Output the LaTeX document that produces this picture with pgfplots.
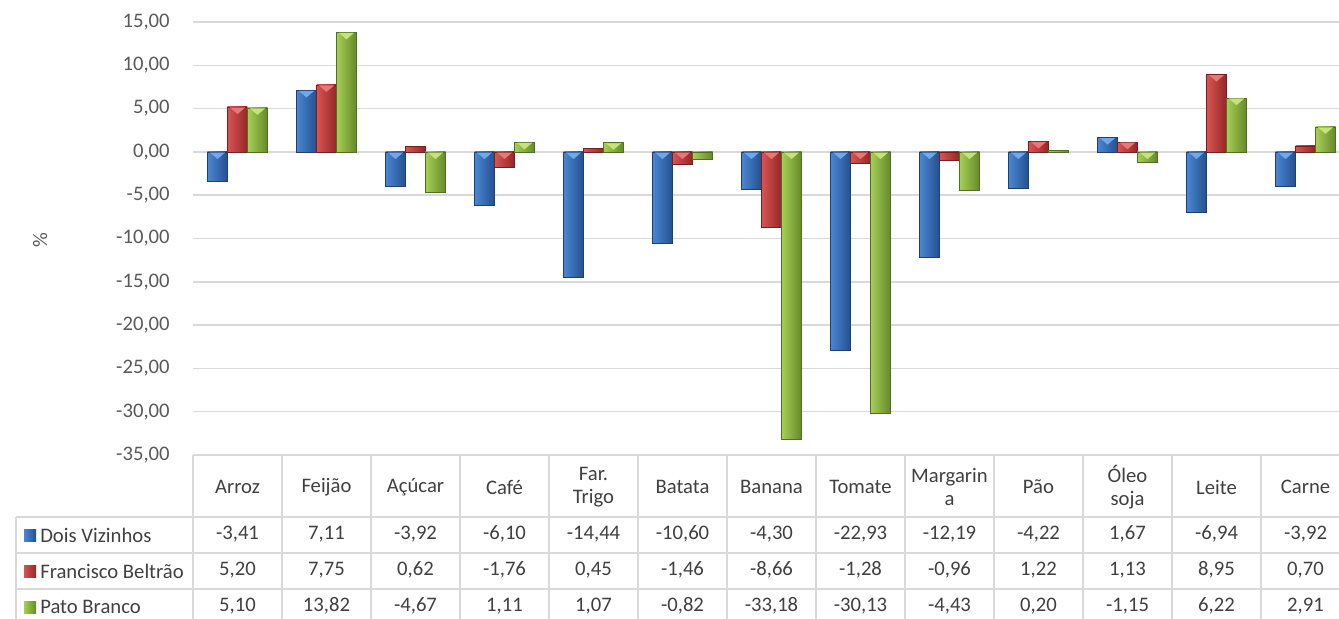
\documentclass[border=0pt]{standalone}
\usepackage{fontspec}
\setmainfont{Carlito}
\usepackage{pgfplots}
\usepackage{pgfplotstable}
\pgfplotsset{compat=1.18}
\definecolor{gridc}{HTML}{D9D9D9}
\definecolor{txt}{HTML}{595959}
\definecolor{tabtxt}{HTML}{404040}
\definecolor{bL}{HTML}{4A86D4}\definecolor{bM}{HTML}{3671C0}\definecolor{bD}{HTML}{24508E}
\definecolor{rL}{HTML}{D85454}\definecolor{rM}{HTML}{C83A3A}\definecolor{rD}{HTML}{952626}
\definecolor{gL}{HTML}{A6CF55}\definecolor{gM}{HTML}{8EBC40}\definecolor{gD}{HTML}{65892A}
\definecolor{bT}{HTML}{6FA8EC}\definecolor{rT}{HTML}{E67878}\definecolor{gT}{HTML}{C6E37A}
\newcommand{\fs}{\fontsize{15.5}{17}\selectfont}
\pgfplotstableread{
idx dv fb pb
0 -3.41 5.20 5.10
1 7.11 7.75 13.82
2 -3.92 0.62 -4.67
3 -6.10 -1.76 1.11
4 -14.44 0.45 1.07
5 -10.60 -1.46 -0.82
6 -4.30 -8.66 -33.18
7 -22.93 -1.28 -30.13
8 -12.19 -0.96 -4.43
9 -4.22 1.22 0.20
10 1.67 1.13 -1.15
11 -6.94 8.95 6.22
12 -3.92 0.70 2.91
}\data
\pgfkeys{/pgf/number format/.cd, fixed, fixed zerofill, precision=2, use comma, 1000 sep={}, assume math mode=true}
\begin{document}
\begin{tikzpicture}
\path[use as bounding box] (0,0) rectangle (1004.25pt,463.5pt);
\clip (0,0) rectangle (1004.25pt,463.5pt);
\begin{axis}[
  at={(144.75pt,122.25pt)}, anchor=south west,
  scale only axis, width=867.75pt, height=324.75pt,
  xmin=-0.5, xmax=12.5, ymin=-35, ymax=15,
  axis line style={draw=none},
  major tick length=0pt,
  ytick={-35,-30,...,15},
  xtick={0,...,12},
  xticklabels={Arroz,Feijão,Açúcar,Café,{Far.\\Trigo},Batata,Banana,Tomate,{Margarin\\a},Pão,{Óleo\\soja},Leite,Carne},
  xticklabel style={font=\fs, text=tabtxt, align=center, anchor=center, yshift=-24pt},
  yticklabel style={font=\fs, text=txt, anchor=east, xshift=-14pt},
  ymajorgrids, grid style={gridc, line width=1.1pt},
  ylabel={\%},
  every axis y label/.style={at={(axis description cs:-0.132,0.4965)}, rotate=90, anchor=center, font=\fs, text=txt},
  clip=false,
]
\pgfplotsinvokeforeach{0,...,12}{
\addplot[ybar, bar width=15pt, bar shift=-15pt, draw=bD!80!black, line width=0.3pt, left color=bL, middle color=bM, right color=bD] table[x=idx,y=dv, restrict x to domain=#1:#1] {\data};
\addplot[ybar, bar width=15pt, bar shift=0pt, draw=rD!80!black, line width=0.3pt, left color=rL, middle color=rM, right color=rD] table[x=idx,y=fb, restrict x to domain=#1:#1] {\data};
\addplot[ybar, bar width=15pt, bar shift=15pt, draw=gD!80!black, line width=0.3pt, left color=gL, middle color=gM, right color=gD] table[x=idx,y=pb, restrict x to domain=#1:#1] {\data};
}
% bevel highlights at the upper end of each bar
\addplot[only marks, color=bT, mark=triangle*, mark size=6.3pt, mark options={solid, draw=bT, fill=bT, line width=0.1pt, rotate=180, yscale=0.5}, unbounded coords=discard]
  table[x expr={\thisrow{idx}-0.2247}, y expr={abs(\thisrow{dv})>=1 ? max(\thisrow{dv},0)-0.32 : nan}] {\data};
\addplot[only marks, color=rT, mark=triangle*, mark size=6.3pt, mark options={solid, draw=rT, fill=rT, line width=0.1pt, rotate=180, yscale=0.5}, unbounded coords=discard]
  table[x=idx, y expr={abs(\thisrow{fb})>=1 ? max(\thisrow{fb},0)-0.32 : nan}] {\data};
\addplot[only marks, color=gT, mark=triangle*, mark size=6.3pt, mark options={solid, draw=gT, fill=gT, line width=0.1pt, rotate=180, yscale=0.5}, unbounded coords=discard]
  table[x expr={\thisrow{idx}+0.2247}, y expr={abs(\thisrow{pb})>=1 ? max(\thisrow{pb},0)-0.32 : nan}] {\data};
\pgfplotsinvokeforeach{0,...,12}{
  \pgfplotstablegetelem{#1}{dv}\of\data
  \edef\tmp{\noexpand\node[font=\noexpand\fs, text=tabtxt] at (axis cs:#1,-44.12) {\noexpand\pgfmathprintnumber{\pgfplotsretval}};}\tmp
  \pgfplotstablegetelem{#1}{fb}\of\data
  \edef\tmp{\noexpand\node[font=\noexpand\fs, text=tabtxt] at (axis cs:#1,-48.28) {\noexpand\pgfmathprintnumber{\pgfplotsretval}};}\tmp
  \pgfplotstablegetelem{#1}{pb}\of\data
  \edef\tmp{\noexpand\node[font=\noexpand\fs, text=tabtxt] at (axis cs:#1,-52.44) {\noexpand\pgfmathprintnumber{\pgfplotsretval}};}\tmp
}
\end{axis}
\begin{scope}[x=0.75pt, y=-0.75pt, yshift=463.5pt]
  \draw[gridc, line width=1.1pt] (193,455) -- (1360,455);
  \foreach \yy in {517,553,589} \draw[gridc, line width=1.1pt] (16,\yy) -- (1360,\yy);
  \draw[gridc, line width=1.1pt] (16,517) -- (16,640);
  \foreach \k in {0,...,13} \draw[gridc, line width=1.1pt] (193+89*\k,455) -- (193+89*\k,640);
  \fill[left color=bL, middle color=bM, right color=bD] (24,529) rectangle (36,541);
  \fill[left color=rL, middle color=rM, right color=rD] (24,565) rectangle (36,577);
  \fill[left color=gL, middle color=gM, right color=gD] (24,601) rectangle (36,613);
  \node[anchor=west, font=\fs, text=tabtxt, inner sep=0pt] at (40,535) {Dois Vizinhos};
  \node[anchor=west, font=\fs, text=tabtxt, inner sep=0pt] at (40,571) {Francisco Beltrão};
  \node[anchor=west, font=\fs, text=tabtxt, inner sep=0pt] at (40,607) {Pato Branco};
\end{scope}
\end{tikzpicture}
\end{document}
